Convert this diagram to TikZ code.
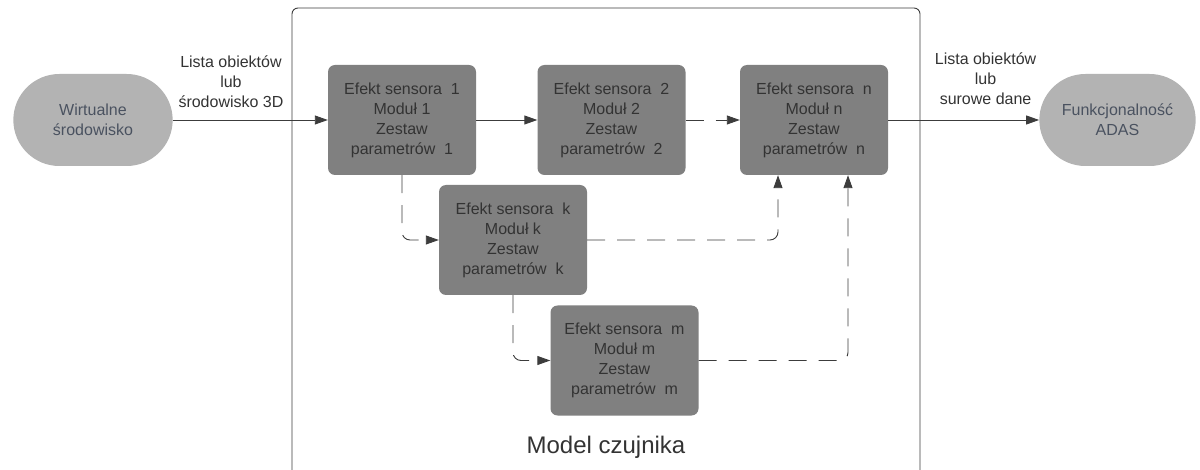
\documentclass[tikz,border=0pt]{standalone}
\usepackage{fontspec}
\setmainfont{Liberation Sans}
\usetikzlibrary{arrows.meta,shapes.misc}

\definecolor{boxgray}{HTML}{808080}
\definecolor{endgray}{HTML}{B3B3B3}
\definecolor{txtdark}{HTML}{333333}
\definecolor{txtslate}{HTML}{4A5260}
\definecolor{linegray}{HTML}{3C3C3C}

\begin{document}
\begin{tikzpicture}[x=1pt,y=-1pt,
    sensor/.style={fill=boxgray, rounded corners=7pt, minimum width=148pt, minimum height=110pt,
        text=txtdark, align=center, font=\fontsize{16}{20}\selectfont},
    endpt/.style={rounded rectangle, fill=endgray, minimum width=166pt, minimum height=92pt,
        text=txtslate, align=center, font=\fontsize{16}{20}\selectfont},
    lbl/.style={align=center, text=txtdark, inner sep=0pt, font=\fontsize{16}{20}\selectfont},
    arr/.style={-{Triangle[length=13pt,width=9pt]}, draw=linegray, line width=0.9pt},
    darr/.style={arr, dash pattern=on 18pt off 12pt, rounded corners=8pt}]
    \useasboundingbox (0,0) rectangle (1200,470);

    % Sensor model frame (open at the bottom)
    \draw[linegray, line width=0.9pt, rounded corners=6pt] (292,472) -- (292,8) -- (920,8) -- (920,472);
    \node[anchor=base, text=txtdark, font=\fontsize{24}{28}\selectfont] (model) at (606,453) {Model czujnika};

    % Inputs and outputs
    \node[endpt] (env) at (93,120) {Wirtualne\\środowisko};
    \node[endpt, minimum width=163pt] (adas) at (1117.5,120) {Funkcjonalność\\ADAS};

    % Sensor effects
    \node[sensor] (s1) at (402,120) {Efekt sensora\ \ 1\\Moduł 1\\Zestaw\\parametrów\ \ 1};
    \node[sensor] (s2) at (611.5,120) {Efekt sensora\ \ 2\\Moduł 2\\Zestaw\\parametrów\ \ 2};
    \node[sensor] (sn) at (814,120) {Efekt sensora\ \ n\\Moduł n\\Zestaw\\parametrów\ \ n};
    \node[sensor] (sk) at (513,240) {Efekt sensora\ \ k\\Moduł k\\Zestaw\\parametrów\ \ k};
    \node[sensor] (sm) at (624.5,360.5) {Efekt sensora\ \ m\\Moduł m\\Zestaw\\parametrów\ \ m};

    % Main chain
    \draw[arr] (env.east) -- node[lbl, pos=0.375, above=12pt] {Lista obiektów\\lub\\środowisko 3D} (s1.west);
    \draw[arr] (s1.east) -- (s2.west);
    \draw[darr] (s2.east) -- (sn.west);
    \draw[arr] (sn.east) -- node[lbl, pos=0.645, above=15pt] {Lista obiektów\\lub\\surowe dane} (adas.west);

    % Optional branches
    \draw[darr] (s1.south) |- (sk.west);
    \draw[darr] (sk.east) -| ([xshift=-36pt]sn.south);
    \draw[darr] (sk.south) |- (sm.west);
    \draw[darr] (sm.east) -| ([xshift=34pt]sn.south);
\end{tikzpicture}
\end{document}
